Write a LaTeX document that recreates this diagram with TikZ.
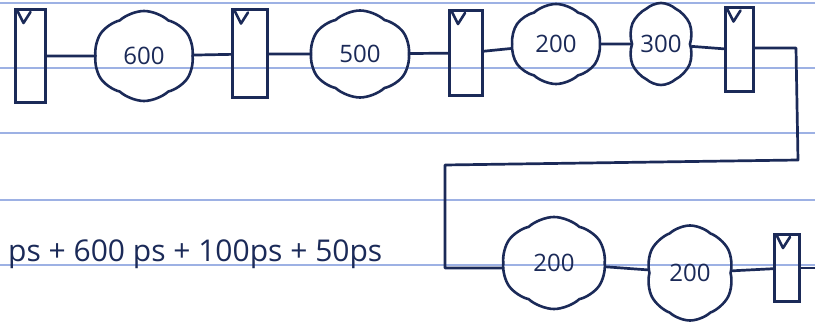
\documentclass[tikz,border=0pt]{standalone}
\usepackage{fontspec}
\setmainfont{Open Sans}
\usetikzlibrary{shapes.symbols}
\definecolor{ink}{HTML}{1B2A58}
\definecolor{ruling}{HTML}{9DB1E4}
\tikzset{
  wire/.style={draw=ink, line width=2.7pt, line join=round, line cap=round},
  reg/.style={draw=ink, line width=3pt, rectangle, inner sep=0pt},
  blob/.style={cloud, cloud puffs=6, cloud puff arc=85, cloud ignores aspect,
    draw=ink, line width=2.6pt, inner sep=0pt, text=ink,
    font=\fontsize{24}{24}\selectfont},
  tick/.style={draw=ink, line width=2.6pt, line join=round, line cap=round},
  paperline/.style={draw=ruling, line width=1.4pt}
}
\begin{document}
\begin{tikzpicture}[x=1pt, y=-1pt]
  \useasboundingbox (0,0) rectangle (815,323);
  \fill[white] (0,0) rectangle (815,323);
  % ruled paper
  \foreach \yy in {3,68,133,200,265}
    \draw[paperline] (0,\yy) -- (815,\yy);

  % upper row
  \node[reg, minimum width=30pt, minimum height=93pt] (R1) at (30,56) {};
  \node[blob, minimum width=100pt, minimum height=90pt] (C1) at (144,56) {600};
  \node[reg, minimum width=35pt, minimum height=88pt] (R2) at (250,54) {};
  \node[blob, minimum width=100pt, minimum height=87pt] (C2) at (360,54) {500};
  \node[reg, minimum width=33pt, minimum height=85pt] (R3) at (466,53) {};
  \node[blob, minimum width=90pt, minimum height=80pt] (C3) at (556,44) {200};
  \node[blob, minimum width=66pt, minimum height=82pt] (C4) at (661,44) {300};
  \node[reg, minimum width=28pt, minimum height=84pt] (R4) at (739,50) {};

  % lower row
  \node[blob, minimum width=104pt, minimum height=92pt] (C5) at (554,263) {200};
  \node[blob, minimum width=88pt, minimum height=95pt] (C6) at (690,273) {200};
  \node[reg, minimum width=25pt, minimum height=67pt] (R5) at (787,268) {};

  % clock marks in the registers
  \foreach \r in {R1,R2,R3,R4,R5}
    \draw[tick] ([shift={(4,3)}]\r.north west) -- ([shift={(10,15)}]\r.north west)
      -- ([shift={(17,4)}]\r.north west);

  % wiring
  \draw[wire] (R1) -- (C1);
  \draw[wire] (C1) -- (R2);
  \draw[wire] (R2) -- (C2);
  \draw[wire] (C2) -- (R3);
  \draw[wire] (R3) -- (C3);
  \draw[wire] (C3) -- (C4);
  \draw[wire] (C4) -- (R4);
  \coordinate (k1) at (796,48);
  \coordinate (k2) at (798,160);
  \coordinate (k3) at (445,165);
  \coordinate (k4) at (445,268);
  \draw[wire] (R4.east |- k1) -- (k1) -- (k2) -- (k3) -- (k4) -- (k4 -| C5.west);
  \draw[wire] (C5) -- (C6);
  \draw[wire] (C6) -- (R5);
  \coordinate (out) at (815,268);
  \draw[wire] (R5) -- (out);

  % delay sum
  \node[anchor=base west, inner sep=0pt, text=ink,
    font=\fontsize{30}{30}\selectfont] (sum) at (8,262)
    {ps + 600 ps + 100ps + 50ps};
\end{tikzpicture}
\end{document}
